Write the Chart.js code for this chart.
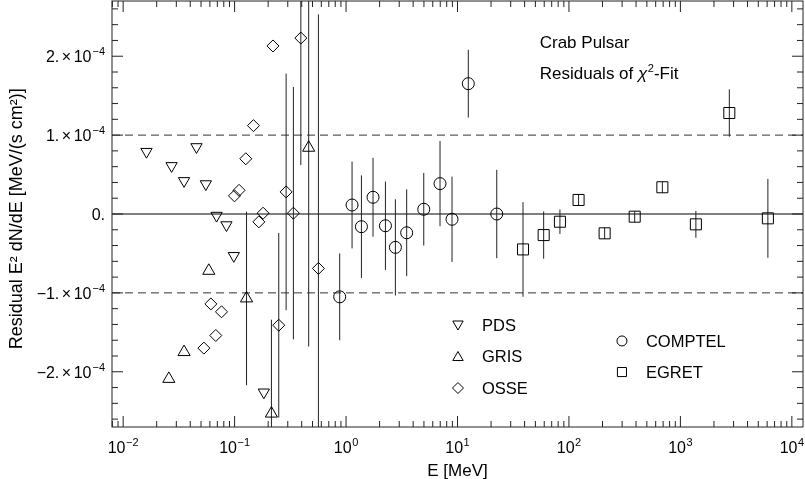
<!DOCTYPE html>
<html>
<head>
<meta charset="utf-8">
<script src="https://cdn.jsdelivr.net/npm/chart.js@4.4.1/dist/chart.umd.min.js"></script>
<style>
  html, body { margin: 0; padding: 0; background: #fff; }
  canvas { display: block; }
</style>
</head>
<body>
<canvas id="residualChart" width="805" height="479"></canvas>
<script>
// residuals are given in units of 1e-4 MeV/(s cm^2)
const UNIT = 1e-4;

const pdsEnergy = [0.0162, 0.0272, 0.0352, 0.0455, 0.0552, 0.0689, 0.0845, 0.0984, 0.183];
const pdsResid  = [0.79, 0.61, 0.42, 0.85, 0.38, -0.02, -0.14, -0.53, -2.26];
const pdsError  = [0, 0, 0, 0, 0, 0, 0, 0, 0];

const grisEnergy = [0.0257, 0.0352, 0.0587, 0.128, 0.214, 0.462];
const grisResid  = [-2.09, -1.75, -0.72, -1.07, -2.53, 0.84];
const grisError  = [0, 0, 0, 1.1, 1.19, 2.52];

const osseEnergy = [0.053, 0.0612, 0.0678, 0.0763, 0.0998, 0.1097, 0.126, 0.1477,
                    0.165, 0.180, 0.221, 0.249, 0.29, 0.337, 0.393, 0.565];
const osseResid  = [-1.70, -1.14, -1.54, -1.24, 0.23, 0.30, 0.70, 1.12,
                    -0.10, 0.01, 2.13, -1.41, 0.28, 0.01, 2.23, -0.69];
const osseError  = [0, 0, 0, 0, 0, 0, 0, 0,
                    0, 0, 0, 1.17, 1.5, 1.6, 1.61, 3.22];

const comptelEnergy = [0.877, 1.132, 1.374, 1.746, 2.256, 2.772, 3.50, 4.98, 6.97, 8.93, 12.5, 22.5];
const comptelResid  = [-1.05, 0.114, -0.161, 0.212, -0.149, -0.423, -0.238, 0.06, 0.385, -0.067, 1.652, 0.0];
const comptelError  = [0.55, 0.55, 0.65, 0.5, 0.56, 0.61, 0.55, 0.46, 0.54, 0.54, 0.43, 0.56];

const egretEnergy = [38.7, 59.3, 83.0, 122, 209, 389, 689, 1377, 2747, 6095];
const egretResid  = [-0.449, -0.267, -0.098, 0.178, -0.245, -0.034, 0.339, -0.131, 1.28, -0.055];
const egretError  = [0.6, 0.30, 0.155, 0.07, 0.07, 0.07, 0.07, 0.17, 0.30, 0.50];

const xDecades = [-2, -1, 0, 1, 2, 3, 4];
const yMajorTicks = [-2, -1, 0, 1, 2];
const yTickMantissa = ['\u22122.', '\u22121.', '0.', '1.', '2.'];
const refLevels = [-1, 0, 1];

const FONT = '"Liberation Sans", Arial, Helvetica, sans-serif';

function toPoints(energy, resid, err) {
  return energy.map((e, i) => ({ x: e, y: resid[i] * UNIT, err: err[i] * UNIT }));
}

function markerSet(label, style, radius, rotation, energy, resid, err) {
  return {
    label,
    data: toPoints(energy, resid, err),
    pointStyle: style,
    pointRadius: radius,
    pointRotation: rotation,
    pointBorderColor: '#000',
    pointBackgroundColor: 'rgba(0,0,0,0)',
    pointBorderWidth: 1,
    showLine: false
  };
}

const datasets = [
  markerSet('PDS', 'triangle', 6.5, 180, pdsEnergy, pdsResid, pdsError),
  markerSet('GRIS', 'triangle', 7, 0, grisEnergy, grisResid, grisError),
  markerSet('OSSE', 'rectRot', 6, 0, osseEnergy, osseResid, osseError),
  markerSet('COMPTEL', 'circle', 6, 0, comptelEnergy, comptelResid, comptelError),
  markerSet('EGRET', 'rect', 7.8, 0, egretEnergy, egretResid, egretError)
];

// small marker painter for the in-plot legend (same shapes as chart.js)
function drawMarker(ctx, style, x, y, r, rotation) {
  const rad = (rotation || 0) * Math.PI / 180;
  ctx.beginPath();
  if (style === 'circle') {
    ctx.arc(x, y, r, 0, Math.PI * 2);
  } else if (style === 'rect') {
    const s = Math.SQRT1_2 * r;
    ctx.rect(x - s, y - s, 2 * s, 2 * s);
  } else if (style === 'rectRot') {
    ctx.moveTo(x - r, y); ctx.lineTo(x, y - r); ctx.lineTo(x + r, y); ctx.lineTo(x, y + r);
    ctx.closePath();
  } else if (style === 'triangle') {
    let a = rad;
    ctx.moveTo(x + Math.sin(a) * r, y - Math.cos(a) * r);
    a += 2 * Math.PI / 3;
    ctx.lineTo(x + Math.sin(a) * r, y - Math.cos(a) * r);
    a += 2 * Math.PI / 3;
    ctx.lineTo(x + Math.sin(a) * r, y - Math.cos(a) * r);
    ctx.closePath();
  }
  ctx.stroke();
}

// draws text pieces left to right: [{t, size, dy, gap}]
function drawPieces(ctx, pieces, x, baseline, align) {
  let total = 0;
  pieces.forEach(p => {
    ctx.font = `${p.size}px ${FONT}`;
    p.w = ctx.measureText(p.t).width;
    total += p.w + (p.gap || 0);
  });
  let cx = align === 'right' ? x - total : align === 'center' ? x - total / 2 : x;
  ctx.textAlign = 'left';
  ctx.textBaseline = 'alphabetic';
  pieces.forEach(p => {
    ctx.font = `${p.size}px ${FONT}`;
    ctx.fillText(p.t, cx, baseline - (p.dy || 0));
    cx += p.w + (p.gap || 0);
  });
}

const residualDecor = {
  id: 'residualDecor',
  beforeDraw(chart) {
    const ctx = chart.ctx;
    ctx.save();
    ctx.fillStyle = '#fff';
    ctx.fillRect(0, 0, chart.width, chart.height);
    ctx.restore();
  },
  beforeDatasetsDraw(chart) {
    const { ctx, chartArea: a, scales: { x, y } } = chart;
    ctx.save();
    ctx.beginPath();
    ctx.rect(a.left, a.top, a.right - a.left, a.bottom - a.top);
    ctx.clip();

    // reference levels: solid zero, dashed +-1e-4
    refLevels.forEach(lv => {
      const py = y.getPixelForValue(lv * UNIT);
      ctx.beginPath();
      ctx.lineWidth = 1;
      ctx.strokeStyle = lv === 0 ? '#000' : '#333';
      ctx.setLineDash(lv === 0 ? [] : [8, 5]);
      ctx.moveTo(a.left, py);
      ctx.lineTo(a.right, py);
      ctx.stroke();
    });
    ctx.setLineDash([]);

    // error bars
    ctx.strokeStyle = '#222';
    ctx.lineWidth = 1;
    chart.data.datasets.forEach(ds => {
      ds.data.forEach(p => {
        if (!p.err) return;
        const px = x.getPixelForValue(p.x);
        ctx.beginPath();
        ctx.moveTo(px, y.getPixelForValue(p.y - p.err));
        ctx.lineTo(px, y.getPixelForValue(p.y + p.err));
        ctx.stroke();
      });
    });
    ctx.restore();
  },
  afterDraw(chart) {
    const { ctx, chartArea: a, scales: { x, y } } = chart;
    const w = a.right - a.left;
    const h = a.bottom - a.top;
    const majorLen = 11, minorLen = 6;

    ctx.save();
    ctx.strokeStyle = '#222';
    ctx.lineWidth = 1;
    ctx.strokeRect(a.left, a.top, w, h);

    // x ticks (bottom + top, pointing inwards)
    ctx.beginPath();
    for (let d = -3; d <= 4; d++) {
      for (let k = 1; k <= 9; k++) {
        const v = k * Math.pow(10, d);
        if (v < x.min || v > x.max) continue;
        const px = x.getPixelForValue(v);
        const len = k === 1 ? majorLen : minorLen;
        ctx.moveTo(px, a.bottom); ctx.lineTo(px, a.bottom - len);
        ctx.moveTo(px, a.top); ctx.lineTo(px, a.top + len);
      }
    }
    // y ticks (left + right)
    for (let i = -13; i <= 13; i++) {
      const v = i * 0.2 * UNIT;
      const py = y.getPixelForValue(v);
      const len = i % 5 === 0 ? majorLen : minorLen;
      ctx.moveTo(a.left, py); ctx.lineTo(a.left + len, py);
      ctx.moveTo(a.right, py); ctx.lineTo(a.right - len, py);
    }
    ctx.stroke();

    // tick labels
    ctx.fillStyle = '#000';
    xDecades.forEach(d => {
      const px = x.getPixelForValue(Math.pow(10, d));
      drawPieces(ctx, [
        { t: '10', size: 16, gap: 0.5 },
        { t: (d < 0 ? '\u2212' : '') + Math.abs(d), size: 11, dy: 7 }
      ], px, a.bottom + 26, 'center');
    });
    yMajorTicks.forEach((t, i) => {
      const py = y.getPixelForValue(t * UNIT);
      const pieces = t === 0
        ? [{ t: yTickMantissa[i], size: 16 }]
        : [
            { t: yTickMantissa[i], size: 16, gap: 2.5 },
            { t: '\u00d7', size: 16, gap: 2.5 },
            { t: '10', size: 16, gap: 1 },
            { t: '\u22124', size: 11, dy: 7 }
          ];
      drawPieces(ctx, pieces, a.left - 7, py + 6, 'right');
    });

    // axis titles
    ctx.font = `17px ${FONT}`;
    ctx.textAlign = 'center';
    ctx.textBaseline = 'alphabetic';
    ctx.fillText('E [MeV]', (a.left + a.right) / 2, a.bottom + 49);
    ctx.save();
    ctx.font = `18px ${FONT}`;
    ctx.translate(22, a.top + h * 0.511);
    ctx.rotate(-Math.PI / 2);
    ctx.fillText('Residual E\u00b2 dN/dE [MeV/(s cm\u00b2)]', 0, 0);
    ctx.restore();

    // annotation
    const ax = a.left + w * 0.619;
    ctx.textAlign = 'left';
    ctx.font = `17px ${FONT}`;
    ctx.fillText('Crab Pulsar', ax, a.top + h * 0.097 + 6);
    const by = a.top + h * 0.169 + 6;
    const t1 = 'Residuals of ';
    ctx.fillText(t1, ax, by);
    let cx = ax + ctx.measureText(t1).width;
    ctx.font = `italic 17px ${FONT}`;
    ctx.fillText('\u03c7', cx, by);
    cx += ctx.measureText('\u03c7').width + 0.5;
    ctx.font = `11px ${FONT}`;
    ctx.fillText('2', cx, by - 7);
    cx += ctx.measureText('2').width;
    ctx.font = `17px ${FONT}`;
    ctx.fillText('-Fit', cx, by);

    // in-plot legend, two columns
    const legendRows = [
      { set: 0, style: 'triangle', rot: 180, r: 6, fx: 0.5007, fy: 0.7606 },
      { set: 1, style: 'triangle', rot: 0, r: 6, fx: 0.5007, fy: 0.8345 },
      { set: 2, style: 'rectRot', rot: 0, r: 5.5, fx: 0.5007, fy: 0.9085 },
      { set: 3, style: 'circle', rot: 0, r: 5, fx: 0.738, fy: 0.798 },
      { set: 4, style: 'rect', rot: 0, r: 6.4, fx: 0.738, fy: 0.871 }
    ];
    ctx.strokeStyle = '#000';
    legendRows.forEach(row => {
      const mx = a.left + w * row.fx;
      const my = a.top + h * row.fy;
      drawMarker(ctx, row.style, mx, my + (row.style === 'triangle' ? (row.rot ? -1 : 1) : 0), row.r, row.rot);
      ctx.font = `16.5px ${FONT}`;
      ctx.fillStyle = '#000';
      ctx.fillText(chart.data.datasets[row.set].label, mx + 24, my + 6);
    });
    ctx.restore();
  }
};

new Chart(document.getElementById('residualChart').getContext('2d'), {
  type: 'scatter',
  data: { datasets },
  options: {
    responsive: false,
    animation: false,
    layout: { autoPadding: false, padding: { left: 112, right: 2, top: 1, bottom: 52 } },
    plugins: {
      legend: { display: false },
      tooltip: { enabled: false }
    },
    scales: {
      x: { type: 'logarithmic', min: Math.pow(10, -2.1), max: Math.pow(10, 4.1), display: false },
      y: { type: 'linear', min: -2.7 * UNIT, max: 2.7 * UNIT, display: false }
    }
  },
  plugins: [residualDecor]
});
</script>
</body>
</html>
